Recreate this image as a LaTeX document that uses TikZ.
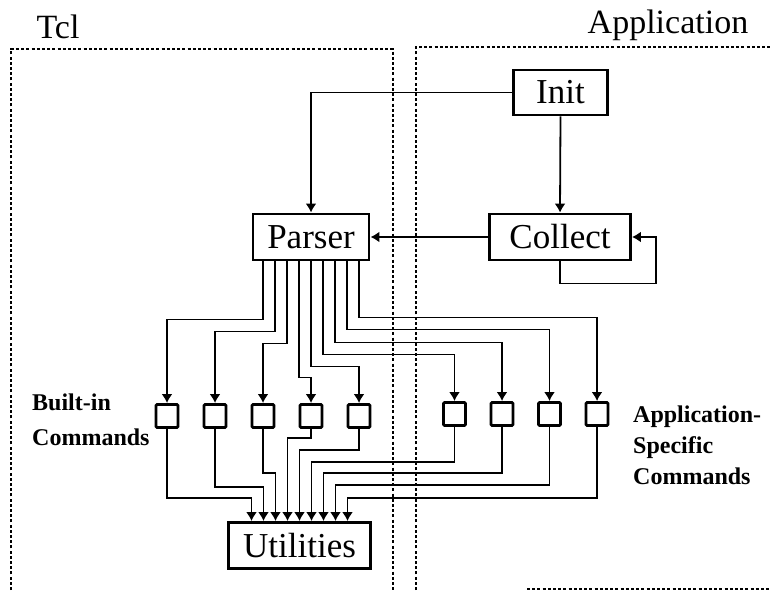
\documentclass[tikz,border=0pt]{standalone}
\usepackage{fontspec}
\setmainfont{Liberation Serif}
\usetikzlibrary{arrows.meta,calc}
\tikzset{
 bigbox/.style={draw, line width=2.8pt, inner sep=0pt, font=\fontsize{35}{40}\selectfont},
 cmd/.style={draw, line width=2.8pt, minimum width=22pt, minimum height=23pt, inner sep=0pt, rounded corners=1.2pt},
 wire/.style={line width=1.8pt},
 arr/.style={wire, -{Latex[length=9pt,width=11pt]}},
 dashbox/.style={line width=1.6pt, dash pattern=on 3pt off 2.2pt},
 head/.style={font=\fontsize{34}{38}\selectfont, inner sep=0pt},
 lbl/.style={font=\fontsize{24}{28}\selectfont\bfseries, anchor=base west, inner sep=0pt},
}
\begin{document}
\begin{tikzpicture}[x=1pt,y=-1pt]
\useasboundingbox (0,0) rectangle (771,590);
% dashed regions
\draw[dashbox] (11,590) -- (11,49) -- (393,49) -- (393,590);
\draw[dashbox] (416,590) -- (416,47) -- (771,47);
\draw[dashbox] (527,589) -- (771,589);
\node[head] (tcl) at (58,27) {Tcl};
\node[head] (app) at (668,25) {Application};
% main boxes
\node[bigbox, minimum width=94pt, minimum height=45pt] (init) at (560.5,92.5) {Init};
\node[bigbox, minimum width=116pt, minimum height=46pt] (parser) at (311,237) {Parser};
\node[bigbox, minimum width=141pt, minimum height=46pt] (collect) at (560,237) {Collect};
\node[bigbox, minimum width=142pt, minimum height=46pt] (util) at (299.5,545.5) {Utilities};
% command boxes
\foreach \i/\x in {1/167,2/215,3/263,4/311,5/359}
  \node[cmd] (b\i) at (\x,416) {};
\foreach \i/\x in {1/454.5,2/502,3/549.5,4/597}
  \node[cmd] (a\i) at (\x,414) {};
% labels
\node[lbl] (bl1) at (32,410) {Built-in};
\node[lbl] (bl2) at (32,445) {Commands};
\node[lbl] (al1) at (633,422) {Application-};
\node[lbl] (al2) at (633,453) {Specific};
\node[lbl] (al3) at (633,484) {Commands};
% top connectors
\draw[arr] (init.west) -| (parser.north);
\draw[arr] (init.south) -- (collect.north);
\draw[arr] (collect.west) -- (parser.east);
\draw[arr] (collect.south) -- ++(0,22) -- ++(96,0) |- (collect.east);
% parser exits and utilities entries
\foreach \i in {1,...,9}{
  \coordinate (p\i) at ($(parser.south)+({12*(\i-5)},0)$);
  \coordinate (u\i) at ($(util.north)+({12*(\i-5)},0)$);
}
\foreach \i/\d/\t in {1/58/b1,2/70/b2,3/82/b3,4/116/b4,5/105/b5,6/93/a1,7/81/a2,8/68/a3,9/56/a4}
  \draw[arr] (p\i) -- ++(0,\d) -| (\t.north);
\foreach \s/\d/\i in {b1/69/1,b2/58/2,b3/44/3,b4/9/4,b5/21/5,a1/35/6,a2/46/7,a3/58/8,a4/71/9}
  \draw[arr] (\s.south) -- ++(0,\d) -| (u\i);
\end{tikzpicture}
\end{document}
